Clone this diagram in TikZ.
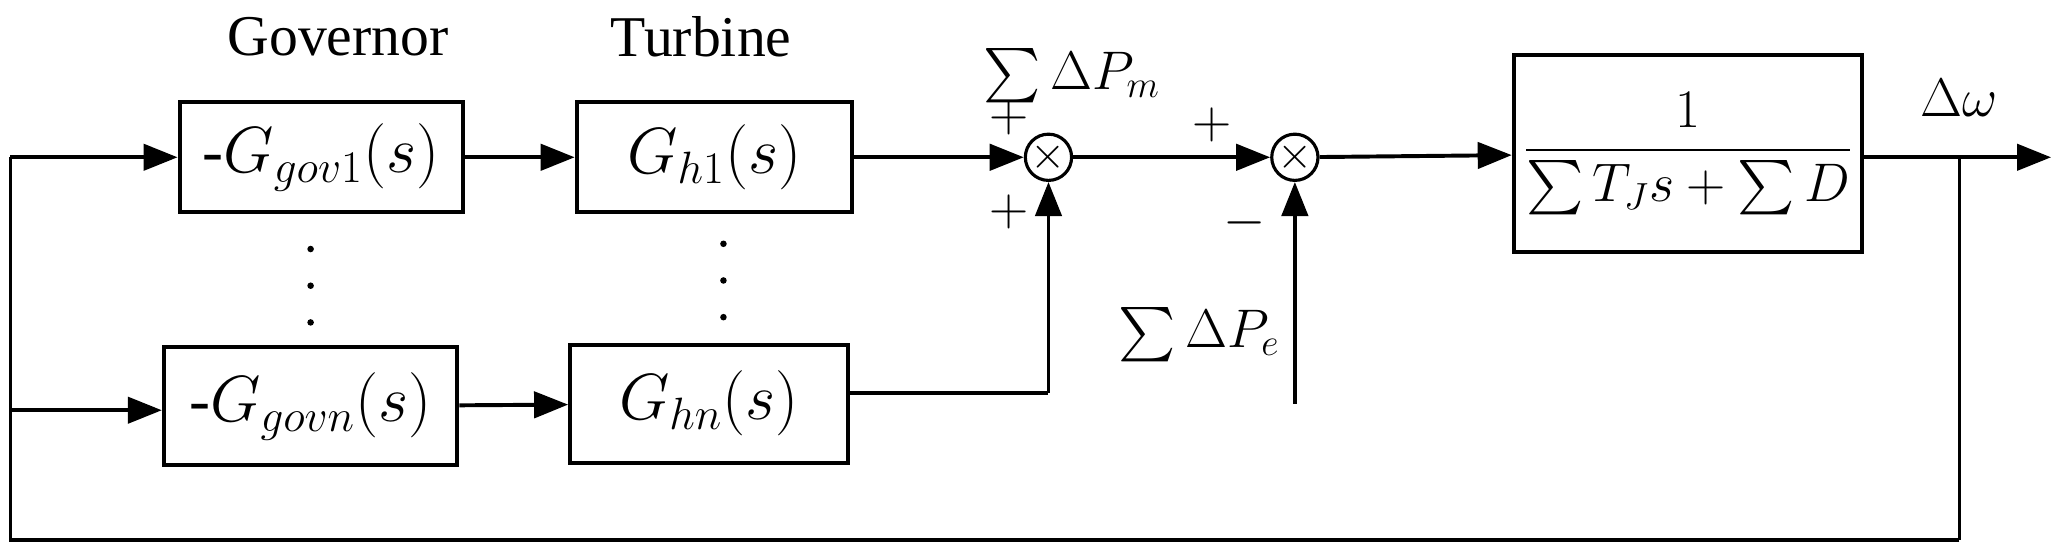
\documentclass[tikz,border=0pt]{standalone}
\usepackage{fontspec}
\setmainfont{Liberation Serif}
\usepackage{amsmath}
\usetikzlibrary{arrows.meta}
\begin{document}
\begin{tikzpicture}[x=0.5pt,y=-0.5pt,
  blk/.style={draw,line width=1.5pt,minimum width=#1,minimum height=42pt,inner sep=0pt,font=\fontsize{24}{28}\selectfont},
  sum/.style={draw,circle,line width=1.2pt,minimum size=14pt,inner sep=0pt,font=\fontsize{18}{20}\selectfont},
  ln/.style={line width=1.5pt},
  ar/.style={ln,-{Triangle[length=13pt,width=10pt]}},
  lbl/.style={font=\fontsize{22}{26}\selectfont},
  dot/.style={circle,fill,inner sep=0pt,minimum size=2.5pt}]
\useasboundingbox (0,0) rectangle (1568,425);
\node[lbl] (tg) at (258,28) {Governor};
\node[lbl] (tt) at (535,28) {Turbine};
\node[blk=108pt] (g1) at (245,120) {-$G_{gov1}(s)$};
\node[blk=105pt] (h1) at (545,120) {$G_{h1}(s)$};
\node[blk=112pt,minimum height=45pt] (gn) at (237,310) {-$G_{govn}(s)$};
\node[blk=106pt,minimum height=45pt] (hn) at (541,308) {$G_{hn}(s)$};
\foreach \y [count=\i] in {190,218,246} {\node[dot] (da\i) at (237,\y) {}; \node[dot] (db\i) at (552,\y-4) {};}
\node[sum] (s1) at (800,120) {$\times$};
\node[sum] (s2) at (988,120) {$\times$};
\node[draw,line width=1.5pt,minimum width=133pt,minimum height=75pt,inner sep=0pt,font=\fontsize{21}{26}\selectfont] (tf) at (1288,117)
  {$\dfrac{1}{\textstyle\sum T_J s+\sum D}$};
\coordinate (out) at (1565,120);
\coordinate (tap) at (1495,120);
\coordinate (br) at (1495,412);
\coordinate (bl) at (8,412);
\coordinate (l1) at (8,120);
\coordinate (ln) at (8,313);
\coordinate (hc) at (800,300);
\coordinate (pe) at (988,308);
\draw[ar] (g1) -- (h1);
\draw[ar] (h1) -- (s1);
\draw[ar] (gn) -- (hn);
\draw[ln] (hn.east |- hc) -- (hc);
\draw[ar] (hc) -- (s1);
\draw[ar] (s1) -- (s2);
\draw[ar] (s2) -- (tf);
\draw[ar] (pe) -- (s2);
\draw[ar] (tf.east |- out) -- (out);
\draw[ln,line width=1pt] (tap) -- (br);
\draw[ln] (br) -- (bl) -- (l1);
\draw[ar] (l1) -- (g1);
\draw[ar] (ln) -- (gn.west |- ln);
\node[lbl] (pm) at (818,58) {$\sum\Delta P_m$};
\node[lbl] (pe2) at (915,255) {$\sum\Delta P_e$};
\node[lbl] (dw) at (1495,75) {$\Delta\omega$};
\node[lbl] (p1) at (770,90) {$+$};
\node[lbl] (p2) at (770,162) {$+$};
\node[lbl] (p3) at (925,95) {$+$};
\node[lbl] (m1) at (950,170) {$-$};
\end{tikzpicture}
\end{document}
